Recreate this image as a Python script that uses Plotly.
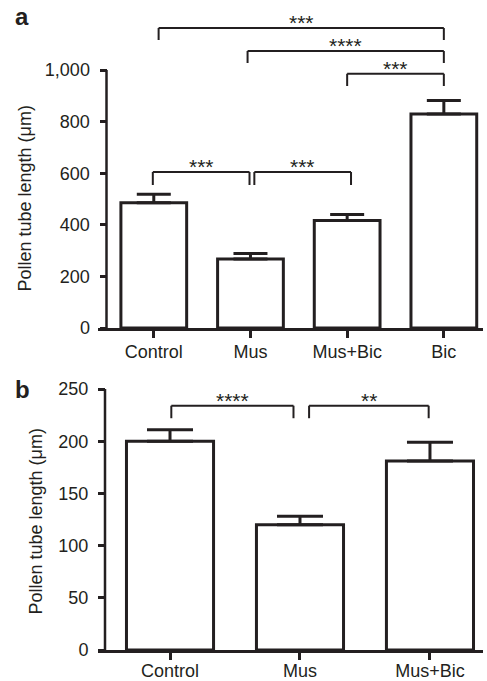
import plotly.graph_objects as go

# ---------------- data ----------------
cats_a = ["Control", "Mus", "Mus+Bic", "Bic"]
mean_a = [485, 267, 417, 829]
sem_a = [33, 22, 23, 53]
yticks_a = [0, 200, 400, 600, 800, 1000]

cats_b = ["Control", "Mus", "Mus+Bic"]
mean_b = [200, 120, 181]
sem_b = [11, 8, 18]
yticks_b = [0, 50, 100, 150, 200, 250]

# comparisons: (from position, to position, label, bracket level, leg level)
comp_a = [
    (0.05, 3.0, "***", 1163, 1116),
    (0.97, 3.0, "****", 1074, 1027),
    (2.0, 3.0, "***", 985, 938),
    (-0.01, 0.99, "***", 605, 554),
    (1.04, 2.04, "***", 605, 554),
]
comp_b = [
    (0.01, 0.95, "****", 234, 222),
    (1.07, 1.99, "**", 234, 222),
]

ytitle = "Pollen tube length (μm)"

# ---------------- styling ----------------
W, H = 487, 681
ink = "#231f20"
font = "Liberation Sans, Arial, sans-serif"
fs = 18

def px_x(p):
    return p / W

def px_y(p):
    return 1 - p / H

fig = go.Figure()

fig.add_trace(go.Bar(
    x=cats_a, y=mean_a, width=0.68,
    marker=dict(color="white", line=dict(color=ink, width=3)),
    error_y=dict(type="data", array=sem_a, arrayminus=[0] * len(sem_a),
                 symmetric=False, color=ink, thickness=3, width=17),
    xaxis="x", yaxis="y", showlegend=False, hoverinfo="skip",
))
fig.add_trace(go.Bar(
    x=cats_b, y=mean_b, width=0.67,
    marker=dict(color="white", line=dict(color=ink, width=3)),
    error_y=dict(type="data", array=sem_b, arrayminus=[0] * len(sem_b),
                 symmetric=False, color=ink, thickness=3, width=23),
    xaxis="x2", yaxis="y2", showlegend=False, hoverinfo="skip",
))

xdom = [px_x(98), px_x(483)]

common_x = dict(type="category", showline=True, linecolor=ink, linewidth=2.5,
                ticks="outside", ticklen=7, tickwidth=2.5, tickcolor=ink,
                showgrid=False, zeroline=False, automargin=False,
                tickfont=dict(family=font, size=fs, color=ink), domain=xdom)
common_y = dict(showline=False, ticks="outside", ticklen=7, tickwidth=2.5,
                tickcolor=ink, showgrid=False, zeroline=False, anchor="free",
                automargin=False,
                tickfont=dict(family=font, size=fs, color=ink),
                ticklabelstandoff=6)

fig.update_layout(
    template="none",
    width=W, height=H, margin=dict(l=0, r=0, t=0, b=0, pad=0, autoexpand=False),
    paper_bgcolor="white", plot_bgcolor="white",
    xaxis=dict(common_x, range=[-0.577, 3.405], anchor="y",
               ticklabelstandoff=-1),
    yaxis=dict(common_y, range=[0, 1200], domain=[px_y(328), px_y(18.4)],
               tickvals=yticks_a, tickformat=",", position=px_x(106.5)),
    xaxis2=dict(common_x, range=[-0.554, 2.408], anchor="y2",
                ticklabelstandoff=-4),
    yaxis2=dict(common_y, range=[0, 250], domain=[px_y(650), px_y(389)],
                tickvals=yticks_b, position=px_x(105)),
)

shapes = []
# y axis lines
shapes.append(dict(type="line", xref="paper", yref="y", x0=px_x(106.5), x1=px_x(106.5),
                   y0=0, y1=yticks_a[-1], line=dict(color=ink, width=2.5)))
shapes.append(dict(type="line", xref="paper", yref="y2", x0=px_x(105), x1=px_x(105),
                   y0=0, y1=yticks_b[-1], line=dict(color=ink, width=2.5)))

annots = []

def add_brackets(comps, xr, yr):
    for x0, x1, lab, ytop, yleg in comps:
        for (a0, b0, a1, b1) in [(x0, yleg, x0, ytop), (x0, ytop, x1, ytop), (x1, ytop, x1, yleg)]:
            shapes.append(dict(type="line", xref=xr, yref=yr, x0=a0, y0=b0, x1=a1, y1=b1,
                               line=dict(color=ink, width=2)))
        annots.append(dict(xref=xr, yref=yr, x=(x0 + x1) / 2, y=ytop, text=lab,
                           showarrow=False, xanchor="center", yanchor="bottom",
                           yshift=-8, font=dict(family=font, size=21, color=ink)))

add_brackets(comp_a, "x", "y")
add_brackets(comp_b, "x2", "y2")

# panel labels
annots.append(dict(xref="paper", yref="paper", x=px_x(13), y=px_y(16.5), text="<b>a</b>",
                   showarrow=False, xanchor="left", yanchor="middle",
                   font=dict(family=font, size=24, color=ink)))
annots.append(dict(xref="paper", yref="paper", x=px_x(13), y=px_y(389.5), text="<b>b</b>",
                   showarrow=False, xanchor="left", yanchor="middle",
                   font=dict(family=font, size=24, color=ink)))
# axis titles
annots.append(dict(xref="paper", yref="paper", x=px_x(24.5), y=px_y(199), text=ytitle,
                   textangle=-90, showarrow=False, xanchor="center", yanchor="middle",
                   font=dict(family=font, size=fs, color=ink)))
annots.append(dict(xref="paper", yref="paper", x=px_x(35.5), y=px_y(522), text=ytitle,
                   textangle=-90, showarrow=False, xanchor="center", yanchor="middle",
                   font=dict(family=font, size=fs, color=ink)))

fig.update_layout(shapes=shapes, annotations=annots)
fig.write_html(
    "out.html",
    config={"displayModeBar": False},
    post_script="document.body.style.margin='0';document.body.style.overflow='hidden';",
)
